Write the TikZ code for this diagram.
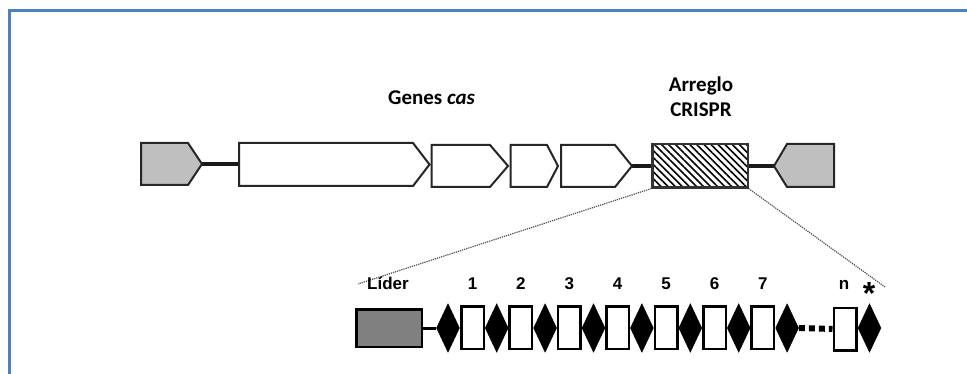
\documentclass[tikz,border=0pt]{standalone}
\usepackage{fontspec}
\usepackage{xcolor}
\usetikzlibrary{shapes, patterns.meta}
\newfontfamily\calibri{Carlito}
\newfontfamily\arial{Liberation Sans}
\definecolor{marco}{HTML}{4F81BD}

\begin{document}
\begin{tikzpicture}[x=1pt, y=-1pt,
		gen/.style={draw=black!85, line width=2pt, line join=miter, fill=white},
		flanco/.style={gen, fill=gray!50},
		union/.style={line width=4.5pt, black!90},
		arreglo/.style={draw=black!80, line width=2.5pt, inner sep=0pt,
			minimum width=95.5pt, minimum height=43.5pt,
			pattern={Lines[angle=-45, distance=5pt, line width=1.6pt]}},
		lider/.style={draw=black, line width=2.5pt, fill=gray, inner sep=0pt,
			minimum width=65.5pt, minimum height=37.5pt},
		espaciador/.style={draw=black, line width=2.5pt, fill=white, inner sep=0pt,
			minimum width=22.5pt, minimum height=42.5pt},
		repeticion/.style={diamond, draw=black, fill=black, line width=0.5pt, inner sep=0pt,
			minimum width=23pt, minimum height=48.5pt},
		zoomline/.style={densely dotted, line width=1.2pt, black!70},
		titulo/.style={font=\calibri\bfseries\fontsize{21}{25}\selectfont, inner sep=0pt},
		etiqueta/.style={font=\arial\bfseries\fontsize{17}{20}\selectfont, inner sep=0pt, anchor=base}]
			\useasboundingbox (0,0) rectangle (967,374);

			%% Marco
			\draw[marco, line width=3pt] (9.5,390) -- (9.5,10.5) -- (990,10.5);

			%% Puntos de union
			\coordinate (izq) at (202,164);
			\coordinate (cas1) at (239,164);
			\coordinate (cas4) at (632,166);
			\coordinate (der) at (774,166);
			\coordinate (zi) at (358,284);
			\coordinate (zd) at (885,287);

			%% Arreglo CRISPR
			\node[arreglo] (crispr) at (700,166) {};

			%% Lineas de union
			\draw[union] (izq) -- (cas1);
			\draw[union] (cas4) -- (crispr.west);
			\draw[union] (crispr.east) -- (der);

			%% Extremos
			\draw[flanco] (141,143) -- (188,143) -- (izq) -- (188,185) -- (141,185) -- cycle;
			\draw[flanco] (834,144) -- (787,144) -- (der) -- (787,187) -- (834,187) -- cycle;

			%% Genes cas
			\draw[gen] (cas1) -- (239,143) -- (413,143) -- (429.5,164.5) -- (413,186) -- (239,186) -- cycle;
			\draw[gen] (431.5,145) -- (490,145) -- (508,166) -- (490,187) -- (431.5,187) -- cycle;
			\draw[gen] (510.5,145) -- (547,145) -- (558,166) -- (547,187) -- (510.5,187) -- cycle;
			\draw[gen] (561,145) -- (615,145) -- (cas4) -- (615,187) -- (561,187) -- cycle;

			\node[titulo, anchor=base west] (genes) at (388,105) {Genes \textit{cas}};
			\node[titulo, anchor=base] (arr) at (701,92) {Arreglo};
			\node[titulo, anchor=base] (cr) at (701,117) {CRISPR};

			%% Ampliacion
			\draw[zoomline] (crispr.south west) -- (zi);
			\draw[zoomline] (crispr.south east) -- (zd);

			%% Lider, repeticiones y espaciadores
			\node[lider] (lid) at (389,328) {};
			\node[repeticion] (r0) at (448,328) {};
			\draw[line width=3pt] (lid.east) -- (r0.west);
			\foreach \i in {1,...,7} {
				\node[espaciador] (e\i) at ({472.5+48.4*(\i-1)},327.5) {};
				\node[repeticion] (r\i) at ({496.7+48.4*(\i-1)},328) {};
				\node[etiqueta] (n\i) at ({472.5+48.4*(\i-1)},290) {\i};
			}
			\node[espaciador] (en) at (845,329) {};
			\node[repeticion] (rn) at (869.5,328) {};
			\draw[line width=6pt, dash pattern=on 6pt off 4pt] (r7.east) -- (en.west);

			\node[etiqueta, anchor=base west] (tlid) at (367,290) {Líder};
			\node[etiqueta] (tn) at (844,290) {n};
			\node[etiqueta, font=\arial\bfseries\fontsize{32}{32}\selectfont] (ast) at (869,305) {*};
		\end{tikzpicture}
\end{document}
